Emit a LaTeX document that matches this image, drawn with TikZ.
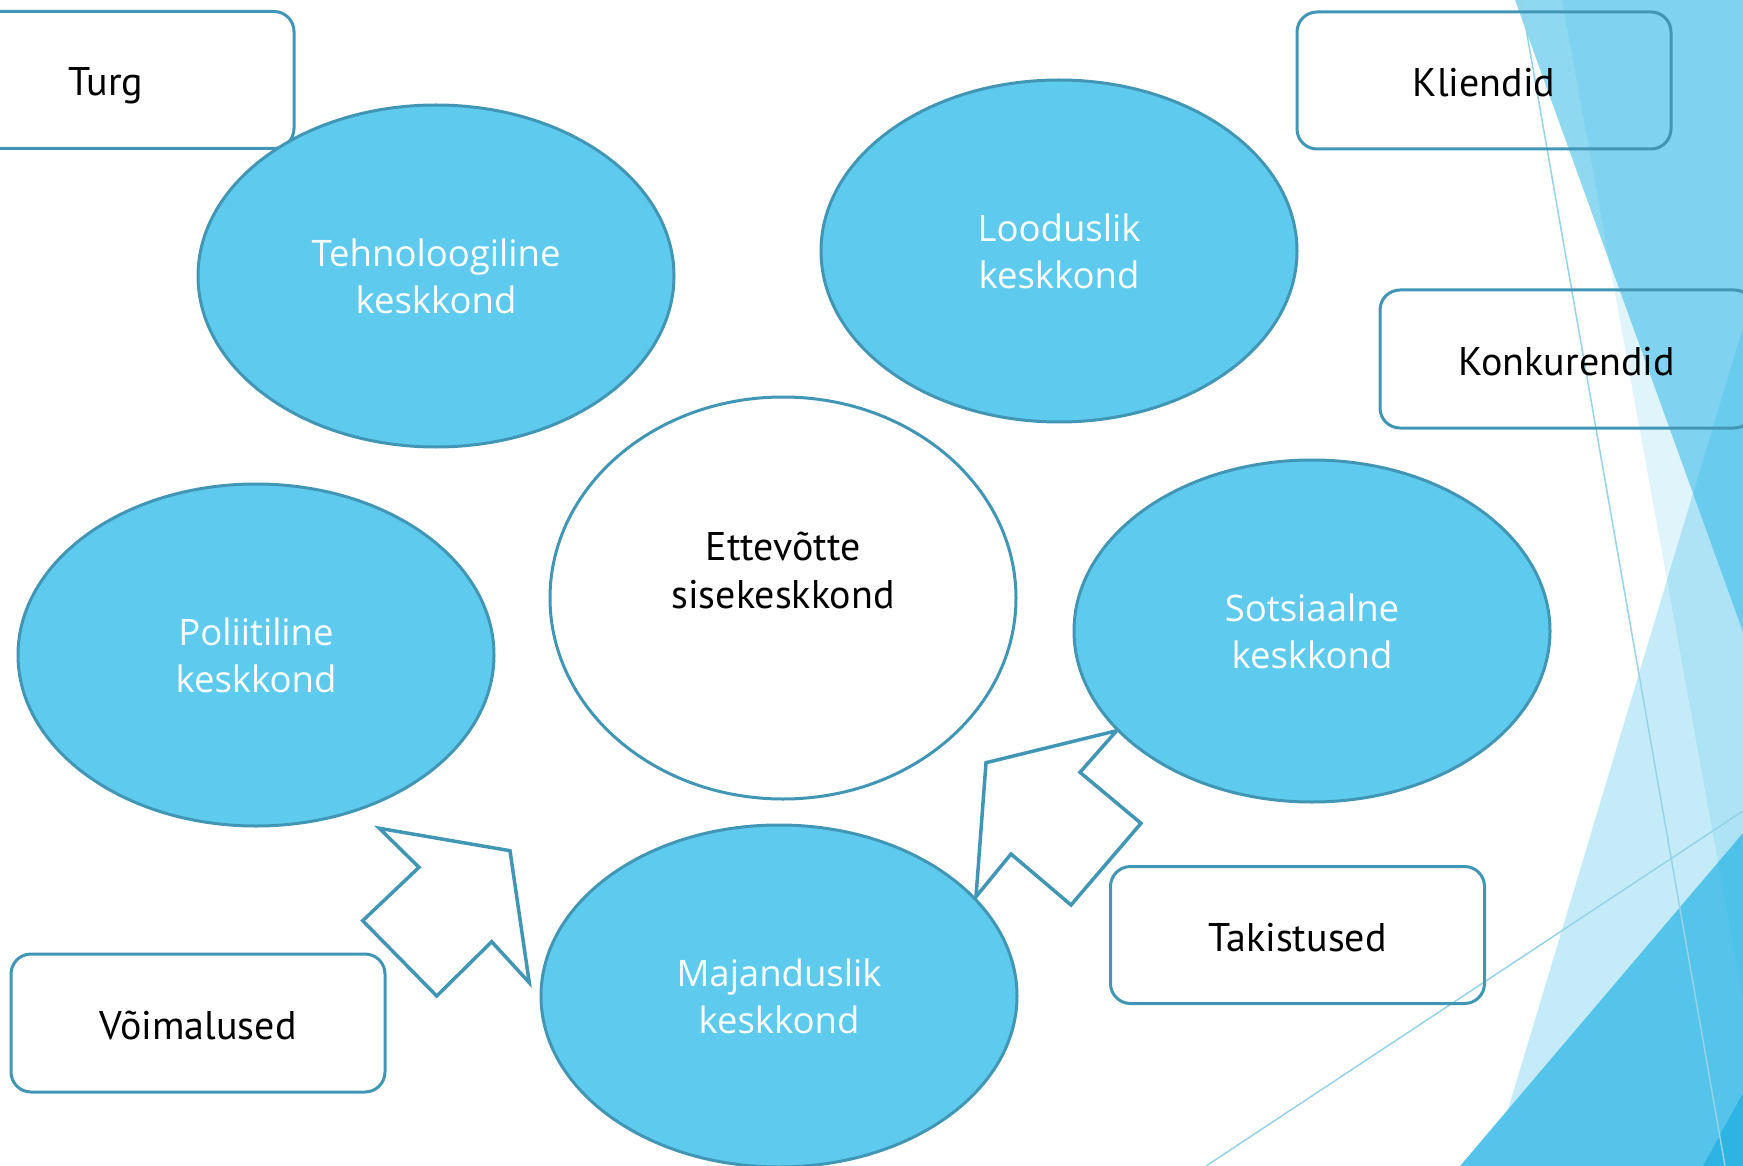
\documentclass[tikz,border=0pt]{standalone}
\usepackage{fontspec}
\setmainfont{Open Sans}
\newfontfamily\ellfont{Open Sans}
\newfontfamily\boxfont{PT Sans}
\usetikzlibrary{shapes.geometric}
\definecolor{ellfill}{RGB}{94,202,238}
\definecolor{edgec}{RGB}{66,150,181}
\definecolor{bgc}{RGB}{41,181,230}
\definecolor{bgdark}{RGB}{85,196,234}
\definecolor{bgdarker}{RGB}{45,180,227}
\definecolor{thinc}{RGB}{150,210,232}
\tikzset{
  env/.style={ellipse, draw=edgec, line width=3pt, fill=ellfill, minimum width=476pt, minimum height=342pt, inner sep=0pt},
  core/.style={ellipse, draw=edgec, line width=3pt, fill=white, minimum width=466pt, minimum height=402pt, inner sep=0pt},
  envtext/.style={text=white, font=\ellfont\fontsize{36.5}{47}\selectfont, align=center},
  boxtext/.style={text=black, font=\boxfont\fontsize{40}{48}\selectfont, align=center},
  factortext/.style={boxtext, text height=32pt, text depth=0pt},
  factor/.style={rectangle, rounded corners=20pt, draw=edgec, line width=3pt, minimum width=374pt, minimum height=137pt, inner sep=0pt},
  blockarrow/.style={draw=edgec, line width=3.5pt, fill=white, line join=miter},
  thinline/.style={draw=thinc, line width=1.5pt},
}
\begin{document}
\begin{tikzpicture}[x=1pt,y=-1pt]
\useasboundingbox (0,0) rectangle (1743,1166);
\begin{scope}
\clip (0,0) rectangle (1743,1166);
% background decoration
\fill[bgc, fill opacity=0.27] (1743,327) -- (1743,1166) -- (1491,1166) -- cycle;
\fill[bgdark] (1743,833) -- (1743,1166) -- (1460,1166) -- cycle;
\fill[bgdarker] (1743,1093) -- (1743,1166) -- (1703,1166) -- cycle;
\fill[bgc, fill opacity=0.52] (1515,0) -- (1743,0) -- (1743,632) -- cycle;
\fill[bgc, fill opacity=0.15] (1562,0) -- (1743,0) -- (1743,1000) -- cycle;
\draw[thinline] (1521,0) -- (1725,1166);
\draw[thinline] (1206,1166) -- (1743,811);
% factor boxes
\node[factor, factortext, minimum width=376pt] (turg) at (106,80) {Turg};
\node[factor, factortext] (kliendid) at (1484,80.5) {Kliendid};
\node[factor, factortext, minimum height=138pt] (konk) at (1567,359) {Konkurendid};
\node[factor, factortext] (takist) at (1297.5,935) {Takistused};
\node[factor, factortext, minimum height=138pt] (voim) at (198,1023) {Võimalused};
% block arrows
\draw[blockarrow] (379.3,828.3) -- (510,850.7) -- (529.3,982.7) -- (491.7,941.7) -- (436.7,996) -- (362.7,920.7) -- (419,867.3) -- cycle;
\draw[blockarrow] (986,762.7) -- (1116.7,730.7) -- (1080,772.3) -- (1141,823.3) -- (1071,905) -- (1011,854) -- (976,896.7) -- cycle;
% ellipses
\node[env, envtext] (tech) at (436,276) {Tehnoloogiline\\keskkond};
\node[env, envtext] (nature) at (1059,251) {Looduslik\\keskkond};
\node[core] (core) at (783,598) {};
\node[boxtext] (coretext) at (783,570) {Ettevõtte\\sisekeskkond};
\node[env, envtext] (pol) at (256,655) {Poliitiline\\keskkond};
\node[env, envtext] (soc) at (1312,631) {Sotsiaalne\\keskkond};
\node[env, envtext] (econ) at (779,996) {Majanduslik\\keskkond};
\end{scope}
\end{tikzpicture}
\end{document}
